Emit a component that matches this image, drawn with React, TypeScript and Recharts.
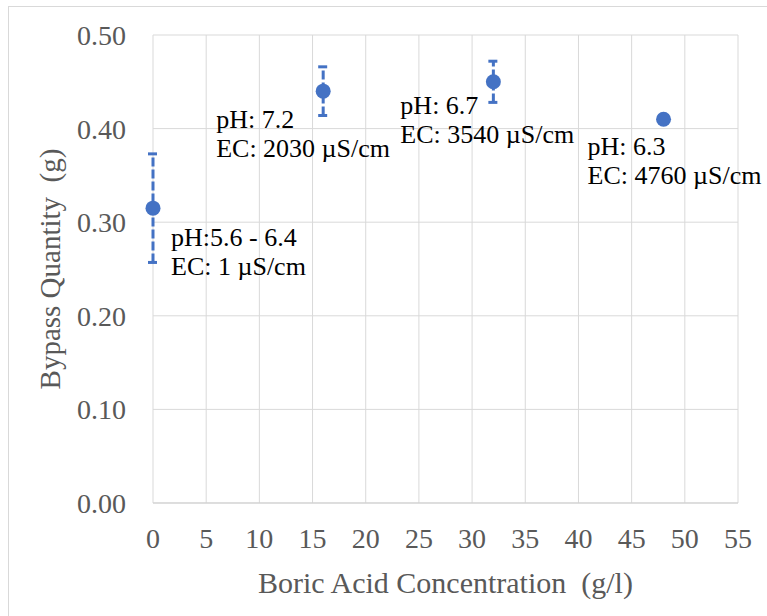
import React from 'react';
import { ScatterChart, Scatter, XAxis, YAxis, CartesianGrid, ErrorBar, Label } from 'recharts';

const concentration = [0, 16, 32, 48];
const bypass = [0.315, 0.44, 0.45, 0.41];
const bypassErr = [0.058, 0.026, 0.022, 0];
const phNotes = ['pH:5.6 - 6.4', 'pH: 7.2', 'pH: 6.7', 'pH: 6.3'];
const ecNotes = ['EC: 1 µS/cm', 'EC: 2030 µS/cm', 'EC: 3540 µS/cm', 'EC: 4760 µS/cm'];
const xTicks = [0, 5, 10, 15, 20, 25, 30, 35, 40, 45, 50, 55];
const yTicks = [0, 0.1, 0.2, 0.3, 0.4, 0.5];

const data = concentration.map((x, i) => ({
  x,
  y: bypass[i],
  err: bypassErr[i],
  ph: phNotes[i],
  ec: ecNotes[i],
  i,
}));

// where each note sits relative to its point (px, first baseline)
const noteOffset = [[18, 38], [-107, 37], [-93, 32], [-76, 36]];

const BLUE = '#4472C4';
const FONT = "'Liberation Serif', Tinos, 'Times New Roman', Times, serif";
const AXIS_TEXT = '#595959';

function Marker(props: any) {
  const { cx, cy, payload } = props;
  const [dx, dy] = noteOffset[payload.i];
  return (
    <g>
      <circle cx={cx} cy={cy} r={7.5} fill={BLUE} />
      <text x={cx + dx} y={cy + dy} style={{ fontFamily: FONT, fontSize: 26 }} fill="#000">{payload.ph}</text>
      <text x={cx + dx} y={cy + dy + 29} style={{ fontFamily: FONT, fontSize: 26 }} fill="#000">{payload.ec}</text>
    </g>
  );
}

export default function App() {
  return (
    <div style={{ position: 'fixed', left: 0, top: 0, width: 767, height: 616, background: '#fff', overflow: 'hidden', fontFamily: FONT }}>
      <div style={{ position: 'absolute', left: 8, top: 6, width: 800, height: 700, border: '1px solid #d9d9d9' }} />
      <div style={{ position: 'absolute', left: 0, top: 0 }}>
        <ScatterChart width={767} height={616} margin={{ top: 35, right: 29, bottom: 0, left: 0 }} style={{ fontFamily: FONT }}>
          <CartesianGrid stroke="#d9d9d9" />
          <XAxis
            type="number"
            dataKey="x"
            domain={[0, 55]}
            ticks={xTicks}
            height={113}
            axisLine={{ stroke: '#cfcfcf' }}
            tickLine={false}
            tickSize={0}
            tickMargin={25}
            tick={{ fontFamily: FONT, fontSize: 28, fill: AXIS_TEXT, style: { fontFamily: FONT } }}
          >
            <Label
              value={'Boric Acid Concentration\u00A0 (g/l)'}
              position="insideBottom"
              offset={23}
              style={{ fontFamily: FONT, fontSize: 30, fill: AXIS_TEXT }}
            />
          </XAxis>
          <YAxis
            type="number"
            dataKey="y"
            domain={[0, 0.5]}
            ticks={yTicks}
            width={153}
            axisLine={false}
            tickLine={false}
            tickSize={0}
            tickMargin={27}
            tickFormatter={(v: number) => v.toFixed(2)}
            tick={{ fontFamily: FONT, fontSize: 28, fill: AXIS_TEXT, style: { fontFamily: FONT } }}
          >
            <Label
              content={(p: any) => {
                const vb = p.viewBox;
                const cx = 60;
                const cy = vb.y + vb.height / 2;
                return (
                  <text
                    x={cx}
                    y={cy}
                    transform={`rotate(-90 ${cx} ${cy})`}
                    textAnchor="middle"
                    style={{ fontFamily: FONT, fontSize: 29 }}
                    fill={AXIS_TEXT}
                  >
                    {'Bypass Quantity\u00A0 (g)'}
                  </text>
                );
              }}
            />
          </YAxis>
          <Scatter data={data} fill={BLUE} shape={Marker} isAnimationActive={false}>
            <ErrorBar
              dataKey="err"
              direction="y"
              width={5}
              stroke={BLUE}
              strokeWidth={3}
              strokeDasharray="9 3"
              isAnimationActive={false}
            />
          </Scatter>
        </ScatterChart>
      </div>
    </div>
  );
}
